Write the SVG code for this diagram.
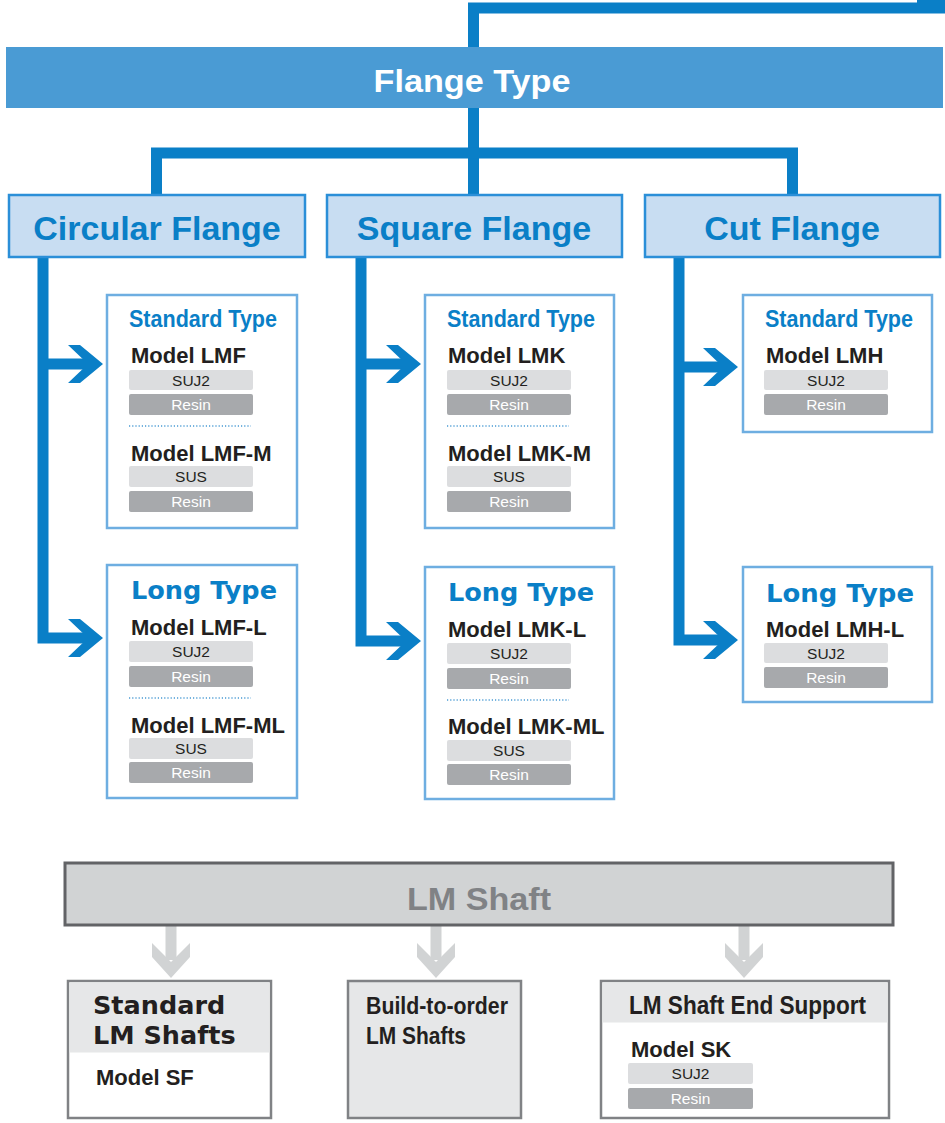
<svg xmlns="http://www.w3.org/2000/svg" width="945" height="1123" viewBox="0 0 945 1123">
<defs>
<style>
.ln{fill:none;stroke:#0a7fc7;stroke-width:11;stroke-linejoin:miter}
.chev{fill:#0a7fc7}
.top{fill:#4a9bd4}
.topt{font-family:"Liberation Sans",Arial,sans-serif;font-weight:bold;font-size:32px;fill:#fff;text-anchor:middle}
.fl{fill:#c8ddf2;stroke:#2b8fd8;stroke-width:2.5}
.flt{font-family:"Liberation Sans",Arial,sans-serif;font-weight:bold;font-size:34px;fill:#0a7fc7;text-anchor:middle}
.tb{fill:#fff;stroke:#6eaee1;stroke-width:2.5}
.st{font-family:"Liberation Sans",Arial,sans-serif;font-weight:bold;font-size:23px;fill:#0a7fc7}
.lt{font-family:"DejaVu Sans",Verdana,sans-serif;font-weight:bold;font-size:25.5px;fill:#0a7fc7}
.md{font-family:"Liberation Sans",Arial,sans-serif;font-weight:bold;font-size:22px;fill:#231f20}
.b1{fill:#dcdddf}
.b2{fill:#a7a9ac}
.bt1{font-family:"Liberation Sans",Arial,sans-serif;font-size:15.5px;fill:#231f20;text-anchor:middle}
.bt2{font-family:"Liberation Sans",Arial,sans-serif;font-size:15.5px;fill:#fff;text-anchor:middle}
.dot{stroke:#4a9bd4;stroke-width:1.5;stroke-dasharray:1.2 2}
.gbar{fill:#d1d3d4;stroke:#626366;stroke-width:3}
.gbt{font-family:"Liberation Sans",Arial,sans-serif;font-weight:bold;font-size:32px;fill:#808285;text-anchor:middle}
.garr{fill:#d1d3d4}
.gb{fill:#fff;stroke:#808285;stroke-width:2.5}
.gh{fill:#e6e7e8}
.hw{font-family:"DejaVu Sans",Verdana,sans-serif;font-weight:bold;font-size:25.5px;fill:#231f20}
.hc{font-family:"Liberation Sans",Arial,sans-serif;font-weight:bold;font-size:24px;fill:#231f20}
</style>
</defs>

<g id="connectors">
<path class="ln" d="M473.5 47 V8 H945"/>
<rect x="917" y="0" width="28" height="13" fill="#0a7fc7"/>
<path class="ln" d="M473.5 108 V195"/>
<path class="ln" d="M156.5 195 V153 H792.5 V195"/>
<path class="ln" d="M43 257 V638 H90"/>
<path class="ln" d="M43 364 H90"/>
<polygon class="chev" points="68,345 80,345 103,364 80,383 68,383 88,364"/>
<polygon class="chev" points="68,619 80,619 103,638 80,657 68,657 88,638"/>
<path class="ln" d="M361 257 V641 H408"/>
<path class="ln" d="M361 364 H408"/>
<polygon class="chev" points="386,345 398,345 421,364 398,383 386,383 406,364"/>
<polygon class="chev" points="386,622 398,622 421,641 398,660 386,660 406,641"/>
<path class="ln" d="M679 257 V640 H725"/>
<path class="ln" d="M679 367 H725"/>
<polygon class="chev" points="703,348 715,348 738,367 715,386 703,386 723,367"/>
<polygon class="chev" points="703,621 715,621 738,640 715,659 703,659 723,640"/>
<g class="garr">
<rect x="165.5" y="926" width="11" height="34"/>
<polygon points="152,943 152,957 171,978 190,957 190,943 171,962"/>
<rect x="430.5" y="926" width="11" height="34"/>
<polygon points="417,943 417,957 436,978 455,957 455,943 436,962"/>
<rect x="738.5" y="926" width="11" height="34"/>
<polygon points="725,943 725,957 744,978 763,957 763,943 744,962"/>
</g>
</g>

<g id="flange-type">
<rect class="top" x="6" y="47" width="937" height="61"/>
<text class="topt" x="472" y="92" textLength="197" lengthAdjust="spacingAndGlyphs">Flange Type</text>
</g>

<g id="circular-flange">
<rect class="fl" x="9" y="195" width="296" height="62"/>
<text class="flt" x="157" y="240">Circular Flange</text>
</g>
<g id="square-flange">
<rect class="fl" x="327" y="195" width="295" height="62"/>
<text class="flt" x="474" y="240">Square Flange</text>
</g>
<g id="cut-flange">
<rect class="fl" x="645" y="195" width="295" height="62"/>
<text class="flt" x="792" y="240">Cut Flange</text>
</g>

<g id="lmf-standard">
<rect class="tb" x="107" y="295" width="190" height="233"/>
<text class="st" x="129" y="327" textLength="148" lengthAdjust="spacingAndGlyphs">Standard Type</text>
<text class="md" x="131" y="363">Model LMF</text>
<rect class="b1" x="129" y="370" width="124" height="20" rx="2"/>
<text class="bt1" x="191" y="385.5">SUJ2</text>
<rect class="b2" x="129" y="394" width="124" height="21" rx="2"/>
<text class="bt2" x="191" y="410">Resin</text>
<line class="dot" x1="129" y1="426" x2="251" y2="426"/>
<text class="md" x="131" y="461">Model LMF-M</text>
<rect class="b1" x="129" y="466" width="124" height="21" rx="2"/>
<text class="bt1" x="191" y="482">SUS</text>
<rect class="b2" x="129" y="491" width="124" height="21" rx="2"/>
<text class="bt2" x="191" y="507">Resin</text>
</g>

<g id="lmf-long">
<rect class="tb" x="107" y="565" width="190" height="233"/>
<text class="lt" x="131" y="599" textLength="146" lengthAdjust="spacingAndGlyphs">Long Type</text>
<text class="md" x="131" y="635">Model LMF-L</text>
<rect class="b1" x="129" y="641" width="124" height="21" rx="2"/>
<text class="bt1" x="191" y="657">SUJ2</text>
<rect class="b2" x="129" y="666" width="124" height="21" rx="2"/>
<text class="bt2" x="191" y="682">Resin</text>
<line class="dot" x1="129" y1="698" x2="251" y2="698"/>
<text class="md" x="131" y="733">Model LMF-ML</text>
<rect class="b1" x="129" y="738" width="124" height="21" rx="2"/>
<text class="bt1" x="191" y="754">SUS</text>
<rect class="b2" x="129" y="762" width="124" height="21" rx="2"/>
<text class="bt2" x="191" y="778">Resin</text>
</g>

<g id="lmk-standard">
<rect class="tb" x="425" y="295" width="189" height="233"/>
<text class="st" x="447" y="327" textLength="148" lengthAdjust="spacingAndGlyphs">Standard Type</text>
<text class="md" x="448" y="363">Model LMK</text>
<rect class="b1" x="447" y="370" width="124" height="20" rx="2"/>
<text class="bt1" x="509" y="385.5">SUJ2</text>
<rect class="b2" x="447" y="394" width="124" height="21" rx="2"/>
<text class="bt2" x="509" y="410">Resin</text>
<line class="dot" x1="447" y1="426" x2="569" y2="426"/>
<text class="md" x="448" y="461">Model LMK-M</text>
<rect class="b1" x="447" y="466" width="124" height="21" rx="2"/>
<text class="bt1" x="509" y="482">SUS</text>
<rect class="b2" x="447" y="491" width="124" height="21" rx="2"/>
<text class="bt2" x="509" y="507">Resin</text>
</g>

<g id="lmk-long">
<rect class="tb" x="425" y="567" width="189" height="232"/>
<text class="lt" x="448" y="601" textLength="146" lengthAdjust="spacingAndGlyphs">Long Type</text>
<text class="md" x="448" y="637">Model LMK-L</text>
<rect class="b1" x="447" y="643" width="124" height="21" rx="2"/>
<text class="bt1" x="509" y="659">SUJ2</text>
<rect class="b2" x="447" y="668" width="124" height="21" rx="2"/>
<text class="bt2" x="509" y="684">Resin</text>
<line class="dot" x1="447" y1="700" x2="569" y2="700"/>
<text class="md" x="448" y="734">Model LMK-ML</text>
<rect class="b1" x="447" y="740" width="124" height="21" rx="2"/>
<text class="bt1" x="509" y="756">SUS</text>
<rect class="b2" x="447" y="764" width="124" height="21" rx="2"/>
<text class="bt2" x="509" y="780">Resin</text>
</g>

<g id="lmh-standard">
<rect class="tb" x="743" y="295" width="189" height="137"/>
<text class="st" x="765" y="327" textLength="148" lengthAdjust="spacingAndGlyphs">Standard Type</text>
<text class="md" x="766" y="363">Model LMH</text>
<rect class="b1" x="764" y="370" width="124" height="20" rx="2"/>
<text class="bt1" x="826" y="385.5">SUJ2</text>
<rect class="b2" x="764" y="394" width="124" height="21" rx="2"/>
<text class="bt2" x="826" y="410">Resin</text>
</g>

<g id="lmh-long">
<rect class="tb" x="743" y="567" width="189" height="135"/>
<text class="lt" x="766" y="602" textLength="148" lengthAdjust="spacingAndGlyphs">Long Type</text>
<text class="md" x="766" y="637">Model LMH-L</text>
<rect class="b1" x="764" y="643" width="124" height="20" rx="2"/>
<text class="bt1" x="826" y="658.5">SUJ2</text>
<rect class="b2" x="764" y="667" width="124" height="21" rx="2"/>
<text class="bt2" x="826" y="683">Resin</text>
</g>

<g id="lm-shaft">
<rect class="gbar" x="65" y="863" width="828" height="62"/>
<text class="gbt" x="479" y="910" textLength="144" lengthAdjust="spacingAndGlyphs">LM Shaft</text>
</g>

<g id="standard-lm-shafts">
<rect class="gb" x="68" y="981" width="203" height="137"/>
<rect class="gh" x="69.5" y="982.5" width="200" height="70"/>
<text class="hw" x="93" y="1014">Standard</text>
<text class="hw" x="93" y="1044">LM Shafts</text>
<text class="md" x="96" y="1085">Model SF</text>
</g>

<g id="build-to-order">
<rect class="gb" x="348" y="981" width="173" height="137" style="fill:#e6e7e8"/>
<text class="hc" x="366" y="1014" textLength="142" lengthAdjust="spacingAndGlyphs">Build-to-order</text>
<text class="hc" x="366" y="1044" textLength="100" lengthAdjust="spacingAndGlyphs">LM Shafts</text>
</g>

<g id="end-support">
<rect class="gb" x="601" y="981" width="288" height="137"/>
<rect class="gh" x="602.5" y="982.5" width="285" height="40"/>
<text class="hc" x="629" y="1014" style="font-size:26px" textLength="237" lengthAdjust="spacingAndGlyphs">LM Shaft End Support</text>
<text class="md" x="631" y="1057">Model SK</text>
<rect class="b1" x="628" y="1063" width="125" height="21" rx="2"/>
<text class="bt1" x="690.5" y="1079">SUJ2</text>
<rect class="b2" x="628" y="1088" width="125" height="21" rx="2"/>
<text class="bt2" x="690.5" y="1104">Resin</text>
</g>
</svg>
